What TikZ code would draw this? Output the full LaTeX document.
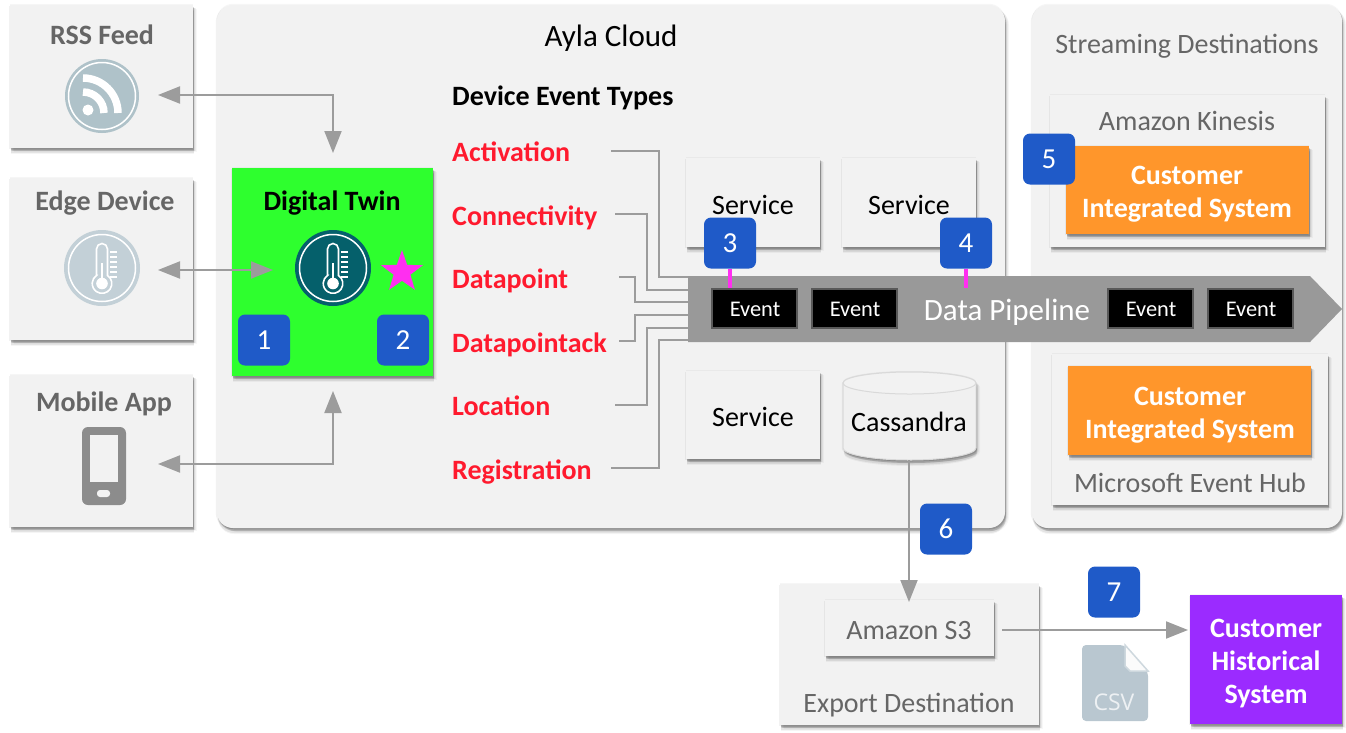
\documentclass[tikz,border=0pt]{standalone}
\usepackage{fontspec}
\setmainfont{Carlito}
\newfontfamily\csvfont{Open Sans}
\usetikzlibrary{shadows,shapes.geometric,arrows.meta}
\definecolor{panelc}{HTML}{F2F2F2}
\definecolor{badgec}{HTML}{1F5AC8}
\definecolor{greenc}{HTML}{2EFF2E}
\definecolor{pinkc}{HTML}{FF2EF0}
\definecolor{orangec}{HTML}{FF962B}
\definecolor{purplec}{HTML}{9B2BFF}
\definecolor{linec}{HTML}{9C9C9C}
\definecolor{pipec}{HTML}{999999}
\definecolor{txtg}{HTML}{666666}
\definecolor{redc}{HTML}{FF1A2E}
\definecolor{tealc}{HTML}{05606B}
\definecolor{iconc}{HTML}{AFC2C9}
\definecolor{iconl}{HTML}{C3D0D7}
\definecolor{csvc}{HTML}{B9C7D0}
\tikzset{
  softshadow/.style={
    general shadow={shadow xshift=1pt,shadow yshift=-6pt,fill=black,opacity=.04},
    general shadow={shadow xshift=1pt,shadow yshift=-5pt,fill=black,opacity=.07},
    general shadow={shadow xshift=4pt,shadow yshift=-4pt,fill=black,opacity=.03},
    general shadow={shadow xshift=3pt,shadow yshift=-3pt,fill=black,opacity=.05},
    general shadow={shadow xshift=2pt,shadow yshift=-3pt,fill=black,opacity=.07},
    general shadow={shadow xshift=1pt,shadow yshift=-3pt,fill=black,opacity=.10},
    general shadow={shadow xshift=1pt,shadow yshift=-1.5pt,fill=black,opacity=.14},
    general shadow={shadow xshift=-1.2pt,shadow yshift=-1pt,fill=black,opacity=.05},
    general shadow={shadow xshift=0pt,shadow yshift=1.2pt,fill=black,opacity=.035}},
  panel/.style={rectangle,inner sep=0pt,fill=panelc,softshadow},
  roundpanel/.style={panel,rounded corners=16pt},
  badge/.style={rectangle,inner sep=0pt,rounded corners=7pt,fill=badgec,text=white,minimum width=52pt,minimum height=51pt,font=\fontsize{29}{32}\selectfont},
  eventbox/.style={rectangle,inner sep=0pt,fill=black,draw=black!65,line width=1.5pt,text=white,minimum width=86pt,minimum height=40pt},
  eventtxt/.style={anchor=base,inner sep=0pt,text=white,font=\fontsize{22.4}{24}\selectfont},
  etype/.style={anchor=base west,inner sep=0pt,text=redc,font=\fontsize{28}{30}\bfseries\selectfont},
  conn/.style={draw=linec,line width=1.8pt},
  arrowline/.style={draw=linec,line width=2pt,{Triangle[length=22pt,width=17pt,fill=linec]}-{Triangle[length=22pt,width=17pt,fill=linec]}},
  onearrow/.style={draw=linec,line width=2pt,-{Triangle[length=22pt,width=17pt,fill=linec]}},
  gtitle/.style={anchor=base,inner sep=0pt,text=txtg,font=\fontsize{28}{30}\selectfont},
  btitle/.style={anchor=base,inner sep=0pt,text=black!60,font=\fontsize{28}{30}\bfseries\selectfont},
  blk/.style={anchor=base,inner sep=0pt,text=black,font=\fontsize{28}{30}\selectfont},
  cust/.style={text=white,align=center,font=\fontsize{28}{33}\bfseries\selectfont},
  stick/.style={draw=pinkc,line width=4.5pt},
}
\newcommand{\boxat}[7]{%
  \pgfmathsetmacro{\cxv}{(#3+#5)/2}\pgfmathsetmacro{\cyv}{(#4+#6)/2}%
  \pgfmathsetmacro{\wv}{#5-#3}\pgfmathsetmacro{\hv}{#6-#4}%
  \node[#1,minimum width=\wv pt,minimum height=\hv pt] (#2) at (\cxv,\cyv) {#7};}
% thermometer icon: center, disc colour, outer ring colour
\newcommand{\thermoicon}[4]{%
 \begin{scope}[shift={(#1,#2)}]
  \fill[#4] (0,0) circle (38);
  \fill[#3] (0,0) circle (35.5);
  \draw[white,line width=1.5pt] (0,0) circle (33.5);
  \draw[white,line width=1.6pt,fill=#3] (-5.5,7.4) -- (-5.5,-19) arc[start angle=180,end angle=360,radius=5.5] -- (5.5,7.4)
     arc[start angle=-56,end angle=236,radius=9.8] -- cycle;
  \fill[white] (0,15.5) circle (5.8);
  \draw[white,line width=1.6pt] (0,15) -- (0,-5);
  \foreach \ty in {-16,-11,-6,-1,4,9}{\draw[white,line width=1.4pt] (8,\ty) -- (15,\ty);}
 \end{scope}}
\begin{document}
\begin{tikzpicture}[x=1pt,y=-1pt]
\useasboundingbox (0,0) rectangle (1346,732);
% containers
\boxat{roundpanel}{cloud}{217}{5}{1005}{528}{}
\boxat{roundpanel}{streaming}{1032}{5}{1342}{528}{}
\boxat{panel}{rss}{10}{5}{193}{148}{}
\boxat{panel}{edge}{10}{178}{193}{340}{}
\boxat{panel}{mobile}{10}{375}{193}{527}{}
\node[btitle] (rsst) at (102,44) {RSS Feed};
\node[btitle] (edget) at (105,210) {Edge Device};
\node[btitle] (mobt) at (104,411) {Mobile App};
% RSS icon
\fill[iconc] (102,96) circle (37);
\draw[white,line width=1.5pt] (102,96) circle (33.5);
\fill[white] (88,110) circle (5.5);
\draw[white,line width=7.5pt] (83,78) arc[start angle=-90,end angle=0,radius=35];
\draw[white,line width=7.5pt] (83,92) arc[start angle=-90,end angle=0,radius=21];
% edge icon
\thermoicon{102}{268}{iconl}{iconl}
% phone
\fill[black!45,rounded corners=6pt] (82,427) rectangle (126,505);
\fill[panelc] (90,435) rectangle (118,482);
\fill[panelc,rounded corners=3pt] (97,490) rectangle (110,497);
% titles
\node[blk,font=\fontsize{31}{34}\selectfont] (aylat) at (611,46) {Ayla Cloud};
\node[gtitle] (stt) at (1187,53) {Streaming Destinations};
\node[inner sep=0pt,anchor=base west,font=\fontsize{28}{30}\bfseries\selectfont] (det) at (452,105) {Device Event Types};
% digital twin
\boxat{panel,fill=greenc}{twin}{232}{168}{433}{376}{}
\node[anchor=base,inner sep=0pt,font=\fontsize{28}{30}\bfseries\selectfont] (twint) at (332,210) {Digital Twin};
\thermoicon{333}{268}{tealc}{tealc}
\node[star,star points=5,star point ratio=2.5,minimum size=44pt,inner sep=0pt,fill=pinkc] (star) at (402,272) {};
% services
\boxat{panel}{svc1}{686}{158}{820}{247}{}
\boxat{panel}{svc2}{842}{158}{976}{247}{}
\boxat{panel}{svc3}{686}{371}{820}{459}{}
\node[blk] (svc1t) at (753,214) {Service};
\node[blk] (svc2t) at (909,214) {Service};
\node[blk] (svc3t) at (753,426) {Service};
% cassandra
\path[fill=black!6,draw=black!15,line width=1pt,softshadow] (843,383) -- (843,448) arc[start angle=180,end angle=0,x radius=66.5,y radius=12] -- (976,383) arc[start angle=360,end angle=180,x radius=66.5,y radius=11] -- cycle;
\fill[panelc,draw=black!15,line width=1pt] (909.5,383) circle[x radius=66.5,y radius=11];
\node[blk] (cass) at (909,431) {Cassandra};
% streaming boxes
\boxat{panel}{kin}{1050}{95}{1325}{247}{}
\node[gtitle] (kint) at (1187,130) {Amazon Kinesis};
\boxat{panel,fill=orangec}{cust1}{1066}{146}{1309}{234}{}
\node[cust] (cust1t) at (1187,194) {Customer\\Integrated System};
\boxat{panel}{hub}{1052}{354}{1328}{505}{}
\boxat{panel,fill=orangec}{cust2}{1068}{366}{1311}{455}{}
\node[cust] (cust2t) at (1190,415) {Customer\\Integrated System};
\node[gtitle] (hubt) at (1190,492) {Microsoft Event Hub};
% pipeline
\fill[pipec] (688,276) -- (1310,276) -- (1342,309) -- (1310,342) -- (688,342) -- cycle;
\coordinate (p1) at (688,277);\coordinate (p2) at (688,290);\coordinate (p3) at (688,302);
\coordinate (p4) at (688,315);\coordinate (p5) at (688,328);\coordinate (p6) at (688,340);
\boxat{eventbox}{e1}{712}{289}{797}{328}{}
\boxat{eventbox}{e2}{812}{289}{897}{328}{}
\boxat{eventbox}{e3}{1108}{289}{1193}{328}{}
\boxat{eventbox}{e4}{1208}{289}{1293}{328}{}
\node[eventtxt] (e1t) at (755,316) {Event};
\node[eventtxt] (e2t) at (855,316) {Event};
\node[eventtxt] (e3t) at (1151,316) {Event};
\node[eventtxt] (e4t) at (1251,316) {Event};
\node[anchor=base,inner sep=0pt,text=white,font=\fontsize{31}{34}\selectfont] (dp) at (1007,320) {Data Pipeline};
% event types
\node[etype] (t1) at (452,161) {Activation};
\node[etype] (t2) at (452,225) {Connectivity};
\node[etype] (t3) at (452,288) {Datapoint};
\node[etype] (t4) at (452,352) {Datapointack};
\node[etype] (t5) at (452,415) {Location};
\node[etype] (t6) at (452,479) {Registration};
\coordinate (a1) at (611,151);\coordinate (a2) at (615,214);\coordinate (a3) at (619,277);
\coordinate (a4) at (619,341);\coordinate (a5) at (615,405);\coordinate (a6) at (611,468);
\draw[conn] (a1) -- (659,151) -- (659,277) -- (p1);
\draw[conn] (a2) -- (647,214) -- (647,290) -- (p2);
\draw[conn] (a3) -- (635,277) -- (635,302) -- (p3);
\draw[conn] (a4) -- (635,341) -- (635,315) -- (p4);
\draw[conn] (a5) -- (647,405) -- (647,328) -- (p5);
\draw[conn] (a6) -- (659,468) -- (659,340) -- (p6);
% export
\boxat{panel}{export}{780}{584}{1039}{725}{}
\boxat{panel}{s3}{825}{600}{994}{656}{}
\node[gtitle] (s3t) at (909,639) {Amazon S3};
\node[gtitle] (expt) at (909,712) {Export Destination};
\boxat{panel,fill=purplec}{hist}{1190}{595}{1342}{724}{}
\node[cust] (histt) at (1266,664) {Customer\\Historical\\System};
% csv icon
\fill[csvc,rounded corners=4pt] (1082,645) -- (1124,645) -- (1148,672) -- (1148,721) -- (1082,721) -- cycle;
\fill[white] (1124,644) -- (1149,644) -- (1149,673) -- cycle;
\draw[csvc!70!white,line width=1.5pt,fill=panelc!30!white] (1125,645) -- (1148,671) -- (1130,671) -- (1125,666) -- cycle;
\node[inner sep=0pt,text=white,opacity=.75,font=\csvfont\fontsize{23}{26}\selectfont] (csv) at (1114,702) {CSV};
% arrows
\coordinate (r1) at (158,95);\coordinate (r2) at (333,95);\coordinate (r3) at (333,153);
\coordinate (ed1) at (158,270);\coordinate (ed2) at (273,270);
\coordinate (m1) at (158,464);\coordinate (m2) at (333,464);\coordinate (m3) at (333,391);
\coordinate (c1) at (909,460);\coordinate (c2) at (909,602);
\coordinate (s1) at (1002,630);\coordinate (s2) at (1188,630);
\draw[arrowline] (r1) -- (r2) -- (r3);
\draw[arrowline] (ed1) -- (ed2);
\draw[arrowline] (m1) -- (m2) -- (m3);
\draw[onearrow] (c1) -- (c2);
\draw[onearrow] (s1) -- (s2);
% badges
\node[badge] (b1) at (264,340) {1};
\node[badge] (b2) at (403,340) {2};
\node[badge] (b3) at (730,243) {3};
\node[badge] (b4) at (966,243) {4};
\node[badge] (b5) at (1049,159) {5};
\node[badge] (b6) at (946,529) {6};
\node[badge] (b7) at (1114,592) {7};
\draw[stick] (b3.south) -- (b3.south |- e1.north);
\draw[stick] (b4.south) -- (b4.south |- e1.north);
\end{tikzpicture}
\end{document}
